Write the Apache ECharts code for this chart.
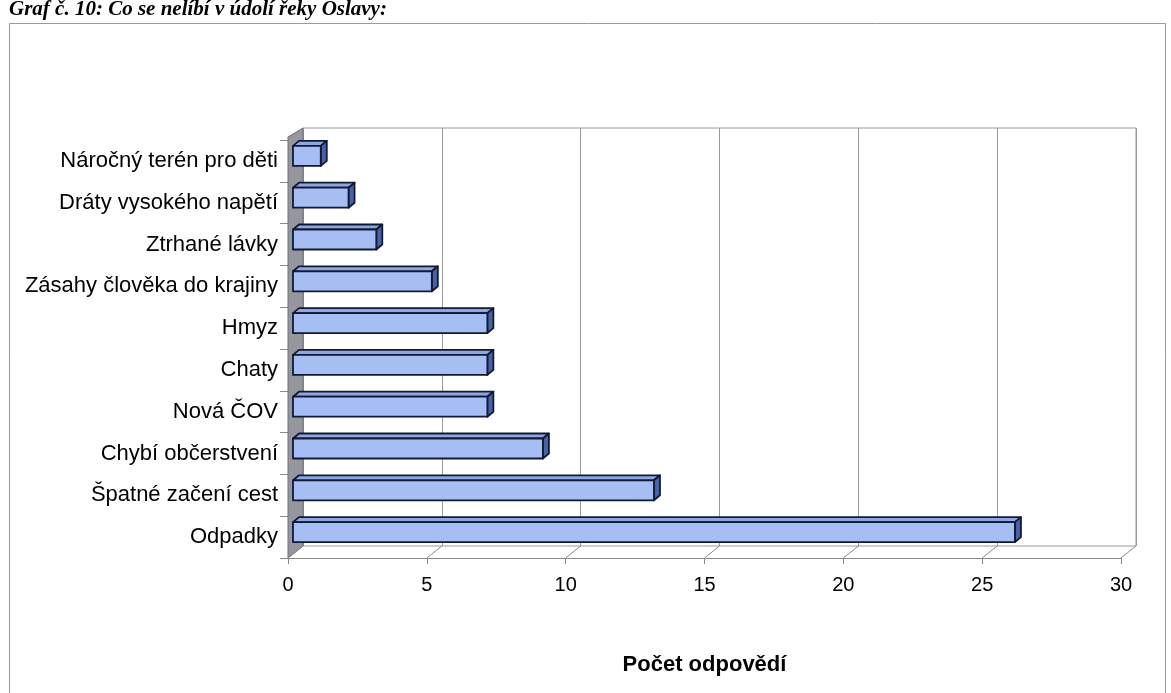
<!DOCTYPE html>
<html>
<head>
<meta charset="utf-8">
<script src="https://cdn.jsdelivr.net/npm/echarts@6/dist/echarts.min.js"></script>
<style>html,body{margin:0;padding:0;background:#fff}#c{width:1171px;height:693px}</style>
</head>
<body>
<div id="c"></div>
<script>
const categories = ['Náročný terén pro děti','Dráty vysokého napětí','Ztrhané lávky','Zásahy člověka do krajiny','Hmyz','Chaty','Nová ČOV','Chybí občerstvení','Špatné začení cest','Odpadky'];
const values = [1, 2, 3, 5, 7, 7, 7, 9, 13, 26];
const xTicks = [0, 5, 10, 15, 20, 25, 30];
const titleText = 'Graf č. 10: Co se nelíbí v údolí řeky Oslavy:';
const axisName = 'Počet odpovědí';

const DX = 15, DY = -12;     // depth of the 3D box
const BSX = 5, BSY = -5;     // bar front-face offset inside depth
const BOX = 6, BOY = -5;     // bar depth
const BAR_H = 20;

const chart = echarts.init(document.getElementById('c'), null, {renderer: 'canvas'});

function wallItem(params, api) {
  const band = api.size([0, 1])[1];
  const top = api.coord([0, 0])[1] - band / 2;
  const bottom = api.coord([0, categories.length - 1])[1] + band / 2;
  const x0 = api.coord([0, 0])[0];
  const children = [];
  children.push({
    type: 'polygon',
    shape: {points: [[x0, top - 3], [x0 + DX, top + DY], [x0 + DX, bottom + DY], [x0, bottom]]},
    style: {fill: '#96969f', stroke: '#6e6e74', lineWidth: 1}
  });
  xTicks.forEach(function (v) {
    const x = api.coord([v, 0])[0];
    children.push({
      type: 'line',
      shape: {x1: x, y1: bottom, x2: x + DX, y2: bottom + DY},
      style: {stroke: '#8a8a8a', lineWidth: 1}
    });
  });
  return {type: 'group', children: children};
}

function barItem(params, api) {
  const idx = api.value(0);
  const val = api.value(1);
  const p0 = api.coord([0, idx]);
  const p1 = api.coord([val, idx]);
  const x0 = p0[0] + BSX, x1 = p1[0] + BSX;
  const yc = p0[1] + BSY;
  const yt = yc - BAR_H / 2, yb = yc + BAR_H / 2;
  const st = {stroke: '#111a33', lineWidth: 1.8, lineJoin: 'round'};
  return {
    type: 'group',
    children: [
      {type: 'polygon', shape: {points: [[x0, yt], [x1, yt], [x1 + BOX, yt + BOY], [x0 + BOX, yt + BOY]]},
       style: Object.assign({fill: '#8ea6e2'}, st)},
      {type: 'polygon', shape: {points: [[x1, yt], [x1 + BOX, yt + BOY], [x1 + BOX, yb + BOY], [x1, yb]]},
       style: Object.assign({fill: '#4762a8'}, st)},
      {type: 'rect', shape: {x: x0, y: yt, width: x1 - x0, height: BAR_H},
       style: Object.assign({fill: '#a6bef4'}, st)}
    ]
  };
}

const barData = values.map(function (v, i) { return [i, v]; });

chart.setOption({
  animation: false,
  textStyle: {fontFamily: 'Liberation Sans'},
  title: {
    text: titleText,
    left: 4, top: -6,
    textStyle: {fontFamily: 'Liberation Serif', fontStyle: 'italic', fontWeight: 'bold', fontSize: 21, color: '#000'}
  },
  graphic: [{
    type: 'rect', left: 7, top: 21, silent: true, z: -10,
    shape: {width: 1156, height: 671},
    style: {fill: 'none', stroke: '#9a9a9a', lineWidth: 1}
  }],
  grid: [
    {left: 288, right: 50, top: 140, bottom: 135},
    {left: 288 + DX, right: 50 - DX, top: 140 + DY, bottom: 135 - DY, show: true, borderColor: '#9a9a9a', borderWidth: 1, backgroundColor: 'transparent'}
  ],
  xAxis: [
    {
      type: 'value', gridIndex: 0, min: 0, max: 30, interval: 5,
      axisLine: {show: true, lineStyle: {color: '#8a8a8a', width: 1}},
      axisTick: {show: true, length: 6, lineStyle: {color: '#8a8a8a'}},
      splitLine: {show: false},
      axisLabel: {color: '#000', fontSize: 20, margin: 17, fontFamily: 'Liberation Sans'},
      name: axisName, nameLocation: 'middle', nameGap: 96,
      nameTextStyle: {color: '#000', fontSize: 22, fontWeight: 'bold', fontFamily: 'Liberation Sans'}
    },
    {
      type: 'value', gridIndex: 1, min: 0, max: 30, interval: 5,
      axisLine: {show: false}, axisTick: {show: false}, axisLabel: {show: false},
      splitLine: {show: true, lineStyle: {color: '#9a9a9a', width: 1}}
    }
  ],
  yAxis: [
    {
      type: 'category', gridIndex: 0, data: categories, inverse: true,
      axisLine: {show: false},
      axisTick: {show: true, length: 8, lineStyle: {color: '#8a8a8a'}},
      axisLabel: {color: '#000', fontSize: 22, margin: 10, padding: [0, 0, 10, 0], fontFamily: 'Liberation Sans'}
    },
    {
      type: 'category', gridIndex: 1, data: categories, inverse: true,
      axisLine: {show: false}, axisTick: {show: false}, axisLabel: {show: false}, splitLine: {show: false}
    }
  ],
  series: [
    {type: 'custom', xAxisIndex: 0, yAxisIndex: 0, renderItem: wallItem, data: [[0, 0]], z: 1, silent: true},
    {type: 'custom', xAxisIndex: 0, yAxisIndex: 0, renderItem: barItem, data: barData, z: 3,
     encode: {x: 1, y: 0}}
  ]
});
</script>
</body>
</html>
